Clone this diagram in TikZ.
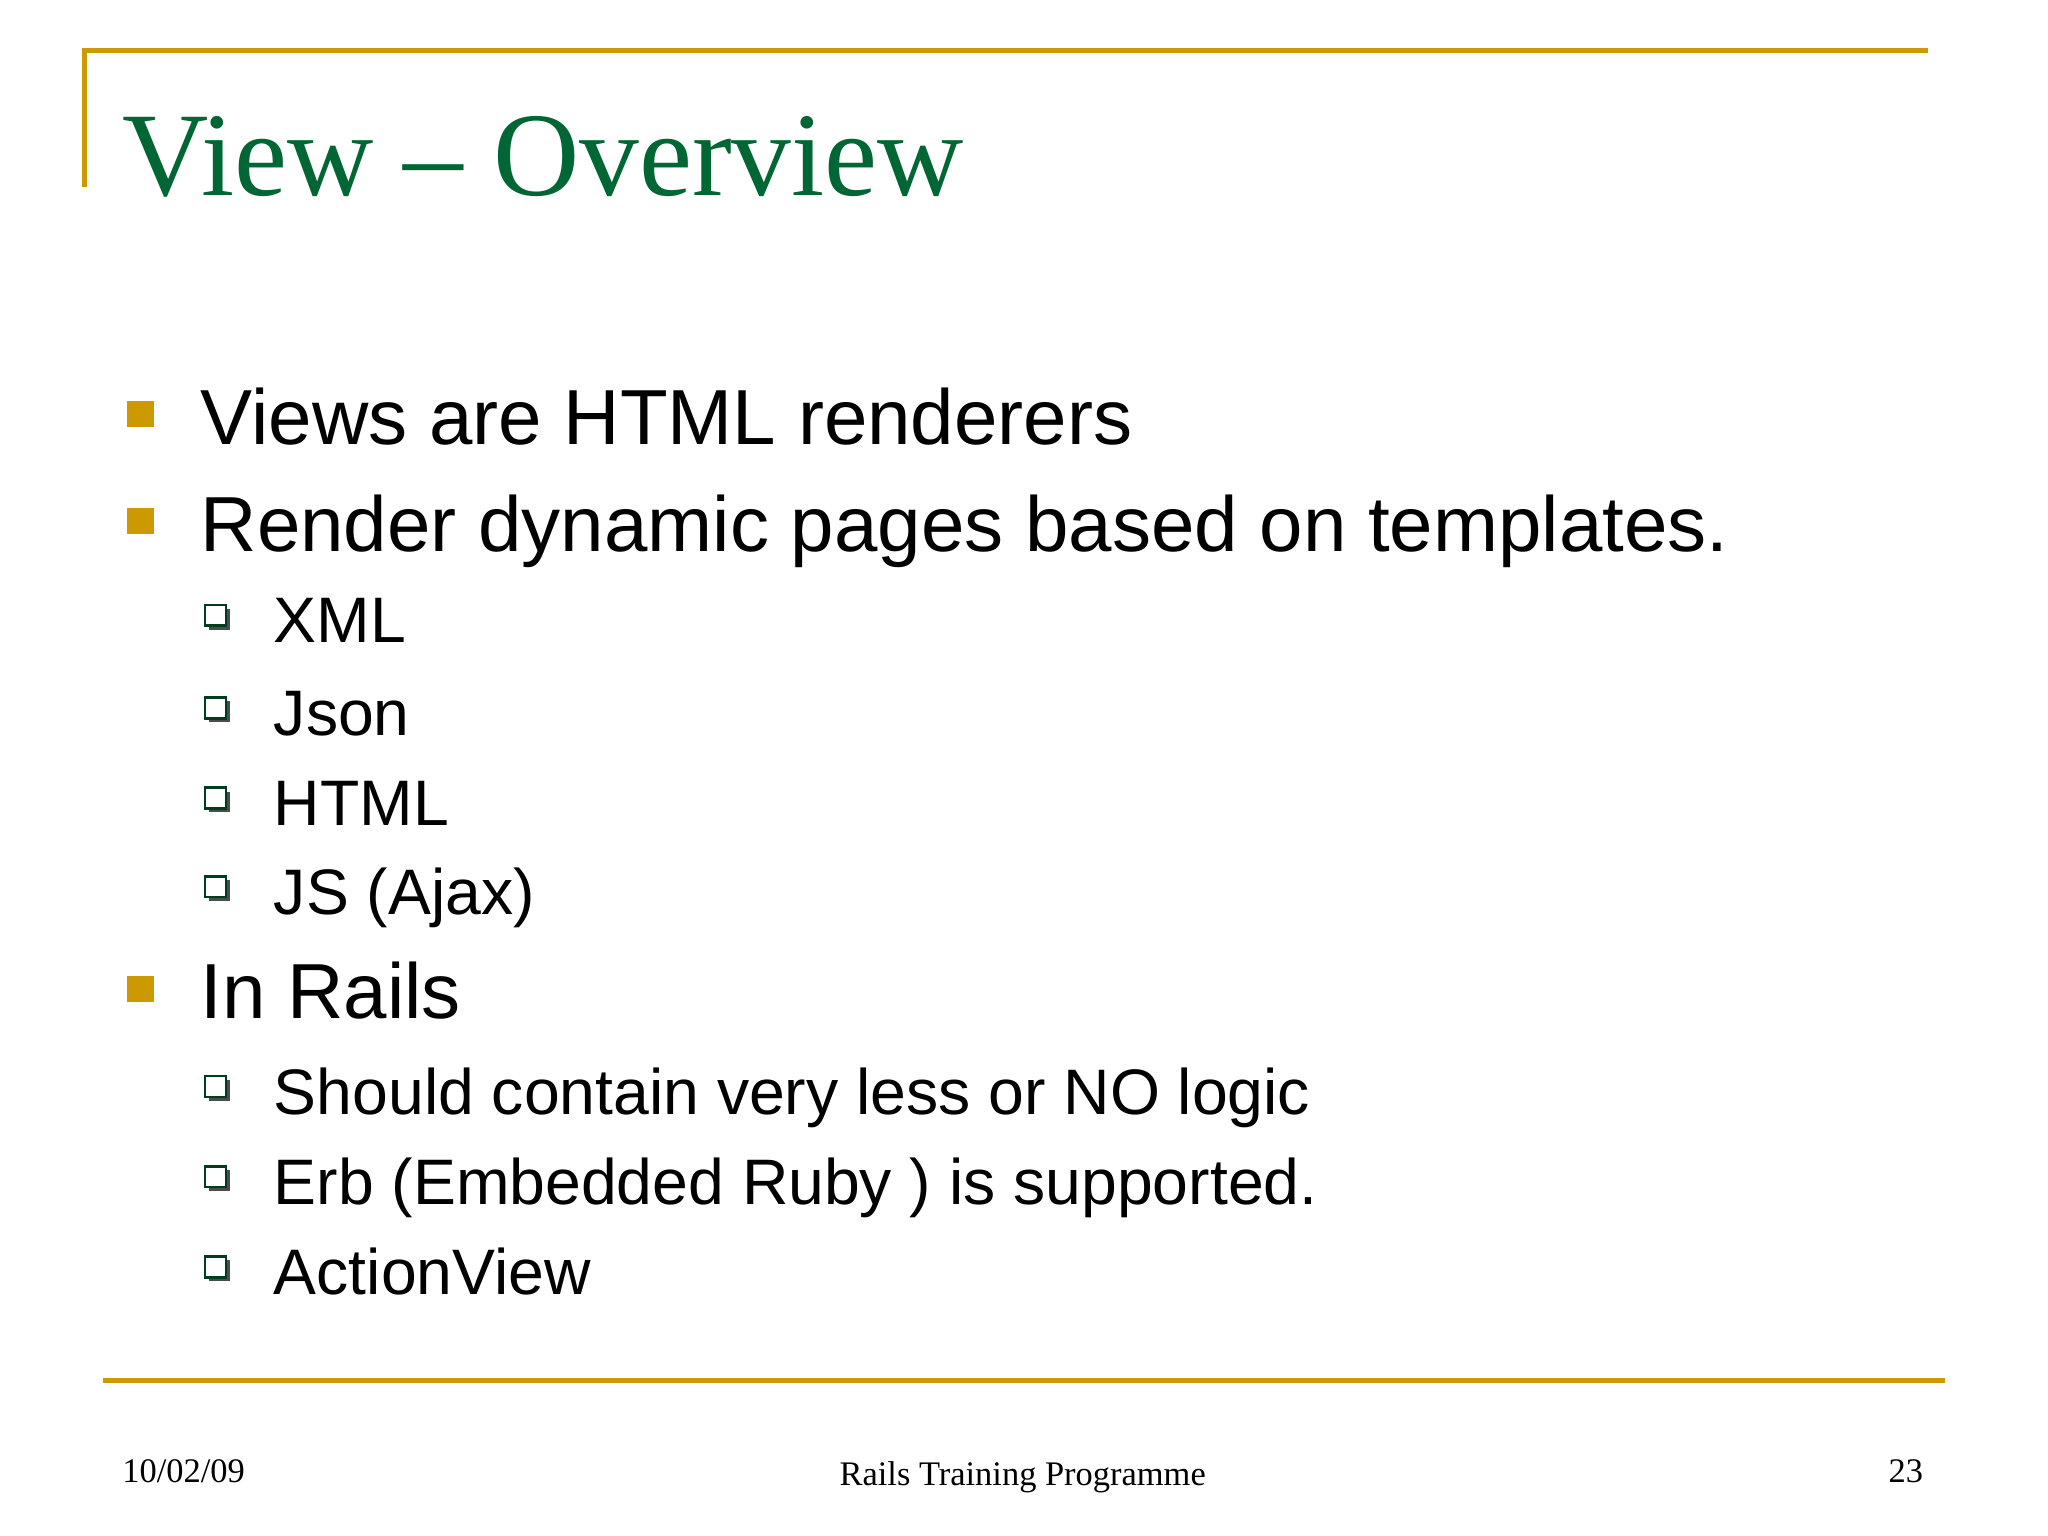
\documentclass[tikz,border=0pt]{standalone}
\usepackage{fontspec}
\setmainfont{Liberation Serif}
\setsansfont{Liberation Sans}
\definecolor{gold}{RGB}{204,153,0}
\definecolor{ttl}{RGB}{0,102,51}
\begin{document}
\begin{tikzpicture}[x=0.01cm,y=-0.01cm,
  lone/.style={anchor=base west,font=\sffamily\fontsize{17}{20}\selectfont,inner sep=0},
  ltwo/.style={anchor=base west,font=\sffamily\fontsize{14}{17}\selectfont,inner sep=0},
  foot/.style={anchor=base,font=\fontsize{7.5}{9}\selectfont,inner sep=0}]
\useasboundingbox (0,0) rectangle (1568,1176);
\fill[white] (0,0) rectangle (1568,1176);
\draw[gold,line width=1.1pt] (65,143) -- (65,39) -- (1476,39);
\draw[gold,line width=1.1pt] (79,1057) -- (1489,1057);
\node[anchor=base west,inner sep=0,text=ttl,font=\fontsize{26}{30}\selectfont] (title) at (93,150) {View -- Overview};
\foreach \y/\t/\n in {340/Views are HTML renderers/a, 422/Render dynamic pages based on templates./b, 780/In Rails/c}{
  \fill[gold] (97,\y-33) rectangle (118,\y-13);
  \node[lone] (\n) at (153,\y) {\t};
}
\foreach \y/\t/\n in {492/XML/s1,563/Json/s2,632/HTML/s3,700/JS (Ajax)/s4,853/Should contain very less or NO logic/s5,922/Erb (Embedded Ruby ) is supported./s6,991/ActionView/s7}{
  \fill[black!70] (160,\y-26) rectangle (176,\y-10);
  \fill[white] (157,\y-29) rectangle (173,\y-13);
  \draw[ttl!60!black,line width=0.5pt] (157,\y-29) rectangle (173,\y-13);
  \node[ltwo] (\n) at (209,\y) {\t};
}
\node[foot,anchor=base west] (d) at (93,1135) {10/02/09};
\node[foot] (m) at (783,1137) {Rails Training Programme};
\node[foot,anchor=base east] (p) at (1473,1135) {23};
\end{tikzpicture}
\end{document}
